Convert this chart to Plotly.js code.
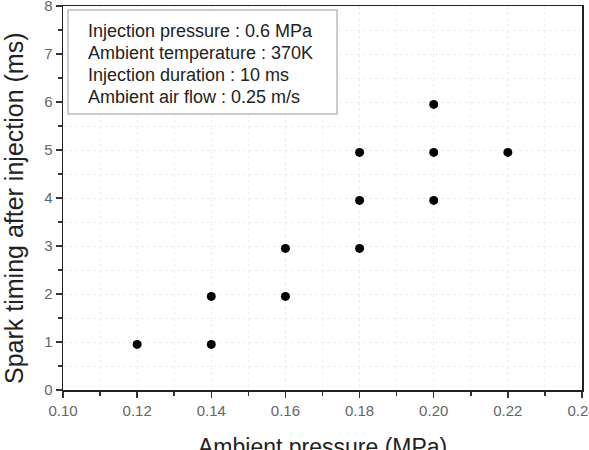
<!DOCTYPE html>
<html>
<head>
<meta charset="utf-8">
<script src="https://cdn.plot.ly/plotly-3.0.1.min.js"></script>
<style>
  html, body { margin: 0; padding: 0; background: #fff; }
  #chart { width: 589px; height: 450px; }
</style>
</head>
<body>
<div id="chart"></div>
<script>
// Ignition test points: ambient pressure vs. spark timing after injection
const ambientPressure = [0.12, 0.14, 0.14, 0.16, 0.16, 0.18, 0.18, 0.18, 0.20, 0.20, 0.20, 0.22];
const sparkTiming     = [0.95, 0.95, 1.95, 1.95, 2.95, 2.95, 3.95, 4.95, 3.95, 4.95, 5.95, 4.95];

// Test conditions listed in the inset box
const conditionLines = [
  'Injection pressure : 0.6 MPa',
  'Ambient temperature : 370K',
  'Injection duration : 10 ms',
  'Ambient air flow : 0.25 m/s'
];

const xTitle = 'Ambient pressure (MPa)';
const yTitle = 'Spark timing after injection (ms)';

const FONT = 'Liberation Sans, Arial, Helvetica, sans-serif';

const trace = {
  type: 'scatter',
  mode: 'markers',
  x: ambientPressure,
  y: sparkTiming,
  marker: { color: '#000', size: 9, symbol: 'circle' },
  hoverinfo: 'x+y'
};

const axisCommon = {
  showline: true,
  linecolor: '#222',
  linewidth: 1.5,
  mirror: true,
  ticks: 'outside',
  ticklen: 6,
  tickwidth: 1.5,
  tickcolor: '#333',
  showgrid: true,
  gridcolor: '#ececec',
  griddash: 'dot',
  gridwidth: 1,
  zeroline: false,
  ticklabeloverflow: 'allow',
  tickfont: { family: FONT, size: 15, color: '#666' },
  automargin: false
};

// Inset box text, one annotation per line
const LINE_TOP = 0.935, LINE_STEP = 0.0573;
const conditionAnnotations = conditionLines.map((line, i) => ({
  xref: 'paper', yref: 'paper',
  x: 0.044, y: LINE_TOP - i * LINE_STEP,
  xanchor: 'left', yanchor: 'middle',
  align: 'left',
  showarrow: false,
  text: line,
  font: { family: FONT, size: 18, color: '#222' }
}));

const layout = {
  width: 589,
  height: 450,
  margin: { l: 63, r: 7, t: 6, b: 60 },
  paper_bgcolor: '#fff',
  plot_bgcolor: '#fff',
  showlegend: false,
  xaxis: Object.assign({}, axisCommon, {
    range: [0.10, 0.24],
    dtick: 0.02,
    tick0: 0.10,
    tickformat: '.2f',
    minor: { dtick: 0.01, ticks: 'outside', ticklen: 4, tickcolor: '#333', showgrid: true, gridcolor: '#f0f0f0', griddash: 'dot' }
  }),
  yaxis: Object.assign({}, axisCommon, {
    range: [0, 8],
    dtick: 1,
    tick0: 0,
    minor: { dtick: 0.5, ticks: 'outside', ticklen: 4, tickcolor: '#333', showgrid: true, gridcolor: '#f0f0f0', griddash: 'dot' }
  }),
  shapes: [{
    type: 'rect', xref: 'paper', yref: 'paper',
    x0: 0.0096, x1: 0.528, y0: 0.719, y1: 0.9896,
    line: { color: '#bbb', width: 1.5 },
    fillcolor: '#fff',
    layer: 'above'
  }],
  annotations: conditionAnnotations.concat([
    {
      // horizontal axis title, sitting low under the tick labels
      xref: 'paper', yref: 'paper',
      x: 0.5, y: -0.109,
      xanchor: 'center', yanchor: 'top',
      showarrow: false,
      text: xTitle,
      font: { family: FONT, size: 23, color: '#222' }
    },
    {
      // vertical axis title
      xref: 'paper', yref: 'paper',
      x: -0.0944, y: 0.474,
      xanchor: 'center', yanchor: 'middle',
      textangle: -90,
      showarrow: false,
      text: yTitle,
      font: { family: FONT, size: 25, color: '#222' }
    }
  ])
};

Plotly.newPlot('chart', [trace], layout, { displayModeBar: false, staticPlot: true });
</script>
</body>
</html>
